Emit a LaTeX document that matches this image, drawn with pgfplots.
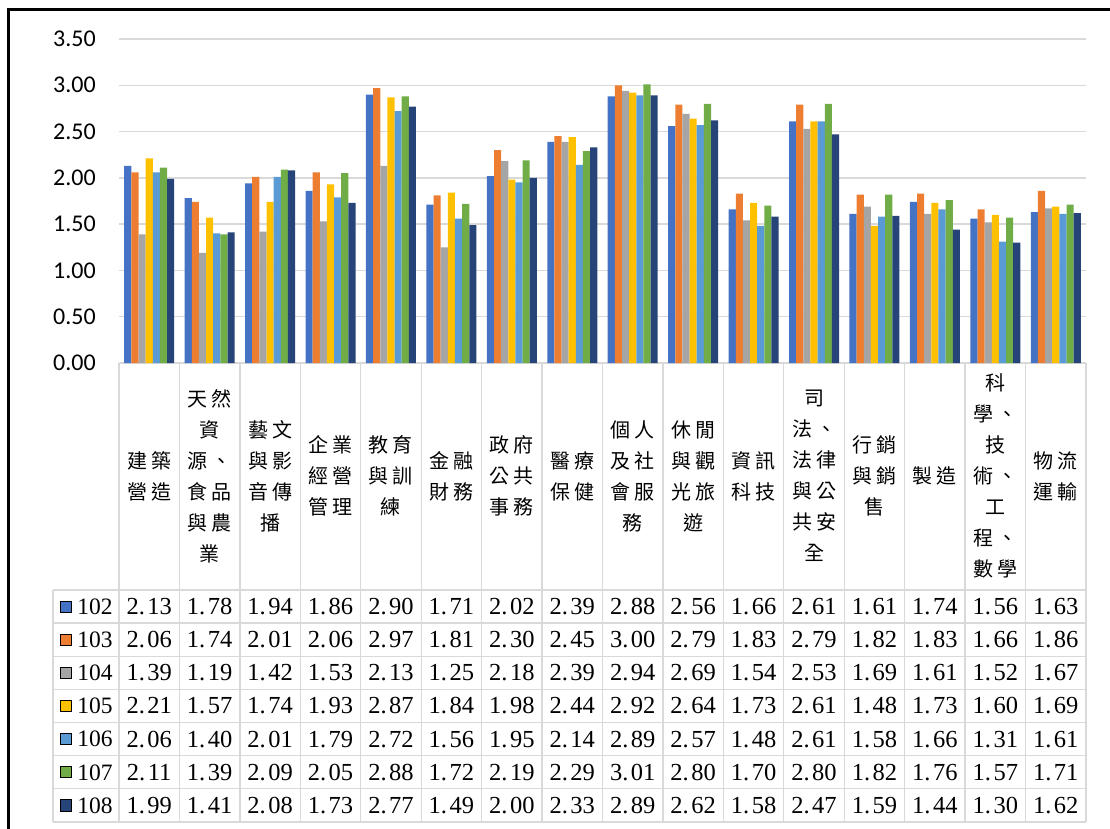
\documentclass[border=0pt]{standalone}
\usepackage{pgfplots}
\pgfplotsset{compat=1.18}
\usepackage{pgfplotstable}
\usepackage{fontspec}
\setmainfont{Liberation Serif}
\newfontfamily\carlito{Carlito}
\newfontfamily\cjk[LetterSpace=20]{Noto Sans CJK TC}
\definecolor{c102}{HTML}{4472C4}
\definecolor{c103}{HTML}{ED7D31}
\definecolor{c104}{HTML}{A5A5A5}
\definecolor{c105}{HTML}{FFC000}
\definecolor{c106}{HTML}{5B9BD5}
\definecolor{c107}{HTML}{70AD47}
\definecolor{c108}{HTML}{264478}
\definecolor{gridc}{HTML}{D9D9D9}
\pgfplotsset{/pgf/number format/assume math mode=true}
\pgfplotstableread{
x  a102 a103 a104 a105 a106 a107 a108
0  2.13 2.06 1.39 2.21 2.06 2.11 1.99
1  1.78 1.74 1.19 1.57 1.40 1.39 1.41
2  1.94 2.01 1.42 1.74 2.01 2.09 2.08
3  1.86 2.06 1.53 1.93 1.79 2.05 1.73
4  2.90 2.97 2.13 2.87 2.72 2.88 2.77
5  1.71 1.81 1.25 1.84 1.56 1.72 1.49
6  2.02 2.30 2.18 1.98 1.95 2.19 2.00
7  2.39 2.45 2.39 2.44 2.14 2.29 2.33
8  2.88 3.00 2.94 2.92 2.89 3.01 2.89
9  2.56 2.79 2.69 2.64 2.57 2.80 2.62
10 1.66 1.83 1.54 1.73 1.48 1.70 1.58
11 2.61 2.79 2.53 2.61 2.61 2.80 2.47
12 1.61 1.82 1.69 1.48 1.58 1.82 1.59
13 1.74 1.83 1.61 1.73 1.66 1.76 1.44
14 1.56 1.66 1.52 1.60 1.31 1.57 1.30
15 1.63 1.86 1.67 1.69 1.61 1.71 1.62
}\data
\newcommand{\numfmt}[1]{\pgfmathprintnumber[fixed,fixed zerofill,precision=2,dec sep={.\kern2.5pt}]{#1}}
\begin{document}
\begin{tikzpicture}[x=1pt,y=1pt]
\path[use as bounding box] (0,0) rectangle (1110,-829);
% table grid
\foreach \k in {0,...,16} {\draw[gridc, line width=1.3pt] ({119+60.4375*\k},-363) -- ({119+60.4375*\k},-822);}
\draw[gridc, line width=1.3pt] (53,-590) -- (53,-822);
\foreach \j in {0,...,7} {\draw[gridc, line width=1.3pt] (53,{-590-33.14*\j}) -- (1086,{-590-33.14*\j});}
\begin{axis}[
  at={(119pt,-363pt)}, anchor=south west,
  scale only axis, width=967pt, height=324pt,
  xmin=-0.5, xmax=15.5, ymin=0, ymax=3.5,
  ybar=0pt, bar width=7.14pt,
  axis line style={draw=none},
  ytick={0,0.5,1,1.5,2,2.5,3,3.5},
  yticklabel={\pgfmathprintnumber[fixed,fixed zerofill,precision=2]{\tick}},
  ymajorgrids, grid style={gridc, line width=1.3pt},
  major tick length=0pt,
  xtick={0,...,15},
  xticklabels={{建築\\營造},{天然\\資\\源、\\食品\\與農\\業},{藝文\\與影\\音傳\\播},{企業\\經營\\管理},{教育\\與訓\\練},{金融\\財務},{政府\\公共\\事務},{醫療\\保健},{個人\\及社\\會服\\務},{休閒\\與觀\\光旅\\遊},{資訊\\科技},{司\\法、\\法律\\與公\\共安\\全},{行銷\\與銷\\售},{製造},{科\\學、\\技\\術、\\工\\程、\\數學},{物流\\運輸}},
  xticklabel style={font=\cjk\fontsize{20}{31}\selectfont, align=center, anchor=center, inner sep=0pt, yshift=-113pt},
  yticklabel style={font=\carlito\fontsize{24}{24}\selectfont, inner sep=0pt, anchor=east, xshift=-23pt},
  clip=false,
]
\addplot[fill=c102, draw=none] table[x=x,y=a102]{\data};
\addplot[fill=c103, draw=none] table[x=x,y=a103]{\data};
\addplot[fill=c104, draw=none] table[x=x,y=a104]{\data};
\addplot[fill=c105, draw=none] table[x=x,y=a105]{\data};
\addplot[fill=c106, draw=none] table[x=x,y=a106]{\data};
\addplot[fill=c107, draw=none] table[x=x,y=a107]{\data};
\addplot[fill=c108, draw=none] table[x=x,y=a108]{\data};
\end{axis}
\begin{axis}[
  at={(53pt,-363pt)}, anchor=north west,
  scale only axis, width=1033pt, height=459pt,
  xmin=-1.592, xmax=15.5, ymin=0, ymax=459, y dir=reverse,
  hide axis, clip=false,
  nodes near coords align={center},
  every node near coord/.append style={font=\fontsize{24.5}{25}\selectfont, inner sep=0pt, text=black},
]
\addplot[draw=none, mark=none, point meta=explicit, nodes near coords={\numfmt{\pgfplotspointmeta}}] table[x=x, y expr=243.57, meta=a102]{\data};
\addplot[draw=none, mark=none, point meta=explicit, nodes near coords={\numfmt{\pgfplotspointmeta}}] table[x=x, y expr=276.71, meta=a103]{\data};
\addplot[draw=none, mark=none, point meta=explicit, nodes near coords={\numfmt{\pgfplotspointmeta}}] table[x=x, y expr=309.86, meta=a104]{\data};
\addplot[draw=none, mark=none, point meta=explicit, nodes near coords={\numfmt{\pgfplotspointmeta}}] table[x=x, y expr=343.00, meta=a105]{\data};
\addplot[draw=none, mark=none, point meta=explicit, nodes near coords={\numfmt{\pgfplotspointmeta}}] table[x=x, y expr=376.14, meta=a106]{\data};
\addplot[draw=none, mark=none, point meta=explicit, nodes near coords={\numfmt{\pgfplotspointmeta}}] table[x=x, y expr=409.29, meta=a107]{\data};
\addplot[draw=none, mark=none, point meta=explicit, nodes near coords={\numfmt{\pgfplotspointmeta}}] table[x=x, y expr=442.43, meta=a108]{\data};
% legend keys
\addplot[only marks, mark=square*, mark size=5.6pt, mark options={fill=c102, draw=none}] coordinates {(-1.380,243.3)};
\addplot[only marks, mark=square*, mark size=5.6pt, mark options={fill=c103, draw=none}] coordinates {(-1.380,276.4)};
\addplot[only marks, mark=square*, mark size=5.6pt, mark options={fill=c104, draw=none}] coordinates {(-1.380,309.6)};
\addplot[only marks, mark=square*, mark size=5.6pt, mark options={fill=c105, draw=none}] coordinates {(-1.380,342.7)};
\addplot[only marks, mark=square*, mark size=5.6pt, mark options={fill=c106, draw=none}] coordinates {(-1.380,375.9)};
\addplot[only marks, mark=square*, mark size=5.6pt, mark options={fill=c107, draw=none}] coordinates {(-1.380,409.0)};
\addplot[only marks, mark=square*, mark size=5.6pt, mark options={fill=c108, draw=none}] coordinates {(-1.380,442.1)};
\addplot[draw=none, mark=none, point meta=explicit symbolic, nodes near coords={\pgfplotspointmeta},
  every node near coord/.append style={font=\fontsize{23.5}{24}\selectfont}] coordinates {
(-0.895,243.57) [102]
(-0.895,276.71) [103]
(-0.895,309.86) [104]
(-0.895,343.00) [105]
(-0.895,376.14) [106]
(-0.895,409.29) [107]
(-0.895,442.43) [108]
};
\end{axis}
\draw[line width=2.5pt] (8.5,-900) -- (8.5,-9.5) -- (1200,-9.5);
\end{tikzpicture}
\end{document}
